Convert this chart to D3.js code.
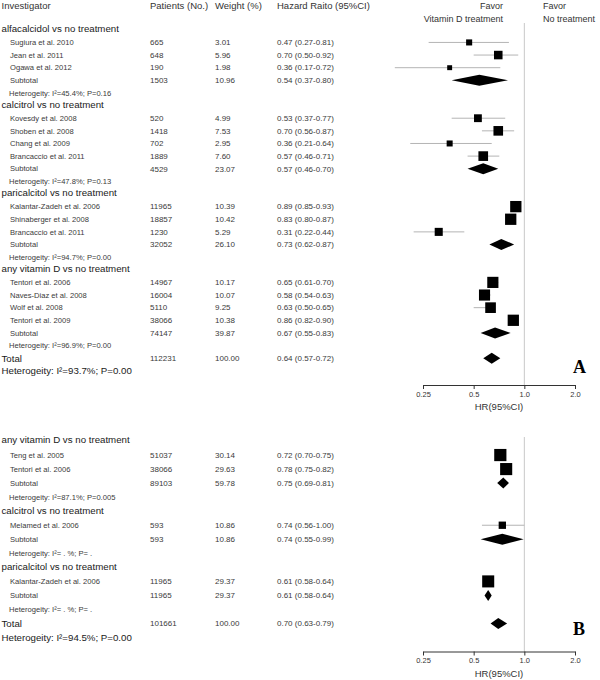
<!DOCTYPE html>
<html>
<head>
<meta charset="utf-8">
<script src="https://cdn.jsdelivr.net/npm/d3@7"></script>
<style>
  html, body { margin: 0; padding: 0; background: #fff; }
  svg { display: block; font-family: "Liberation Sans", Arial, Helvetica, sans-serif; }
</style>
</head>
<body>
<svg id="chart" width="600" height="680"></svg>
<script>
// ---------------- DATA ----------------
// Panel A
const A_groupNames = ["alfacalcidol vs no treatment", "calcitrol vs no treatment", "paricalcitol vs no treatment", "any vitamin D vs no treatment"];
const A_studyNames = ["Sugiura et al. 2010", "Jean et al. 2011", "Ogawa et al. 2012",
  "Kovesdy et al. 2008", "Shoben et al. 2008", "Chang et al. 2009", "Brancaccio et al. 2011",
  "Kalantar-Zadeh et al. 2006", "Shinaberger et al. 2008", "Brancaccio et al. 2011",
  "Tentori et al. 2006", "Naves-Diaz et al. 2008", "Wolf et al. 2008", "Tentori et al. 2009"];
const A_studyGroup = [0, 0, 0, 1, 1, 1, 1, 2, 2, 2, 3, 3, 3, 3];
const A_patients = [665, 648, 190, 520, 1418, 702, 1889, 11965, 18857, 1230, 14967, 16004, 5110, 38066];
const A_weights = [3.01, 5.96, 1.98, 4.99, 7.53, 2.95, 7.60, 10.39, 10.42, 5.29, 10.17, 10.07, 9.25, 10.38];
const A_hr = [0.47, 0.70, 0.36, 0.53, 0.70, 0.36, 0.57, 0.89, 0.83, 0.31, 0.65, 0.58, 0.63, 0.86];
const A_lo = [0.27, 0.50, 0.17, 0.37, 0.56, 0.21, 0.46, 0.85, 0.80, 0.22, 0.61, 0.54, 0.50, 0.82];
const A_hi = [0.81, 0.92, 0.72, 0.77, 0.87, 0.64, 0.71, 0.93, 0.87, 0.44, 0.70, 0.63, 0.65, 0.90];
const A_subPatients = [1503, 4529, 32052, 74147];
const A_subWeights = [10.96, 23.07, 26.10, 39.87];
const A_subHr = [0.54, 0.57, 0.73, 0.67];
const A_subLo = [0.37, 0.46, 0.62, 0.55];
const A_subHi = [0.80, 0.70, 0.87, 0.83];
const A_het = ["I²=45.4%; P=0.16", "I²=47.8%; P=0.13", "I²=94.7%; P=0.00", "I²=96.9%; P=0.00"];
const A_total = [112231, 100.00, 0.64, 0.57, 0.72];
const A_totalHet = "I²=93.7%; P=0.00";

// Panel B
const B_groupNames = ["any vitamin D vs no treatment", "calcitrol vs no treatment", "paricalcitol vs no treatment"];
const B_studyNames = ["Teng et al. 2005", "Tentori et al. 2006", "Melamed et al. 2006", "Kalantar-Zadeh et al. 2006"];
const B_studyGroup = [0, 0, 1, 2];
const B_patients = [51037, 38066, 593, 11965];
const B_weights = [30.14, 29.63, 10.86, 29.37];
const B_hr = [0.72, 0.78, 0.74, 0.61];
const B_lo = [0.70, 0.75, 0.56, 0.58];
const B_hi = [0.75, 0.82, 1.00, 0.64];
const B_subPatients = [89103, 593, 11965];
const B_subWeights = [59.78, 10.86, 29.37];
const B_subHr = [0.75, 0.74, 0.61];
const B_subLo = [0.69, 0.55, 0.58];
const B_subHi = [0.81, 0.99, 0.64];
const B_het = ["I²=87.1%; P=0.005", "I²= . %; P= .", "I²= . %; P= ."];
const B_total = [101661, 100.00, 0.70, 0.63, 0.79];
const B_totalHet = "I²=94.5%; P=0.00";

const tickValues = [0.25, 0.5, 1, 2];
const tickLabels = ["0.25", "0.5", "1.0", "2.0"];

// ---------------- DRAW ----------------
const svg = d3.select("#chart");
const x = d3.scaleLog().base(2).domain([0.25, 2]).range([423, 575]);

const COL = { group: 1.5, study: 10, het: 9, patients: 150, weight: 215, hr: 277 };
const fmt2 = v => v.toFixed(2);
const ciText = (h, l, u) => `${fmt2(h)} (${fmt2(l)}-${fmt2(u)})`;

// Header
const hdr = svg.append("g").attr("fill", "#333").attr("font-size", 9.5);
hdr.append("text").attr("x", COL.group).attr("y", 6).attr("dy", "0.35em").text("Investigator");
hdr.append("text").attr("x", COL.patients).attr("y", 6).attr("dy", "0.35em").text("Patients (No.)");
hdr.append("text").attr("x", COL.weight).attr("y", 6).attr("dy", "0.35em").text("Weight (%)");
hdr.append("text").attr("x", COL.hr).attr("y", 6).attr("dy", "0.35em").text("Hazard Raito (95%CI)");
hdr.append("text").attr("x", 503).attr("y", 6).attr("dy", "0.35em").attr("text-anchor", "end").attr("font-size", 9).text("Favor");
hdr.append("text").attr("x", 503).attr("y", 18.5).attr("dy", "0.35em").attr("text-anchor", "end").attr("font-size", 9).text("Vitamin D treatment");
hdr.append("text").attr("x", 543).attr("y", 6).attr("dy", "0.35em").attr("font-size", 9).text("Favor");
hdr.append("text").attr("x", 543).attr("y", 18.5).attr("dy", "0.35em").attr("font-size", 9).text("No treatment");

function drawPanel(p) {
  const g = svg.append("g");
  // build rows
  const rows = [];
  p.groups.forEach((gn, gi) => {
    rows.push({ type: "header", name: gn });
    p.studyGroup.forEach((sg, si) => {
      if (sg === gi) rows.push({ type: "study", name: p.names[si], n: p.patients[si], w: p.weights[si], hr: p.hr[si], lo: p.lo[si], hi: p.hi[si] });
    });
    rows.push({ type: "subtotal", name: "Subtotal", n: p.subPatients[gi], w: p.subWeights[gi], hr: p.subHr[gi], lo: p.subLo[gi], hi: p.subHi[gi] });
    rows.push({ type: "het", name: "Heterogeity: " + p.het[gi] });
  });
  rows.push({ type: "total", name: "Total", n: p.total[0], w: p.total[1], hr: p.total[2], lo: p.total[3], hi: p.total[4] });
  rows.push({ type: "totalhet", name: "Heterogeity: " + p.totalHet });

  const yOf = i => p.rowStart + i * p.rowStep + (rows[i].type === "header" ? -1 : 0);
  const size = d3.scaleSqrt().domain([0, d3.max(p.weights)]).range([0, p.sqMax]);

  // reference line
  g.append("line").attr("x1", x(1)).attr("x2", x(1)).attr("y1", p.refTop).attr("y2", p.axisY)
    .attr("stroke", "#c8c8c8").attr("stroke-width", 1);

  rows.forEach((r, i) => {
    const y = yOf(i);
    const big = (r.type === "header" || r.type === "total" || r.type === "totalhet");
    const xName = big ? COL.group : (r.type === "het" ? COL.het : COL.study);
    g.append("text").attr("x", xName).attr("y", y).attr("dy", "0.35em")
      .attr("font-size", big ? 9.7 : 7.6).attr("fill", big ? "#1a1a1a" : "#3a3a3a").text(r.name);
    if (r.n !== undefined) {
      const t = g.append("g").attr("font-size", 8).attr("fill", "#3a3a3a");
      t.append("text").attr("x", COL.patients).attr("y", y).attr("dy", "0.35em").text(r.n);
      t.append("text").attr("x", COL.weight).attr("y", y).attr("dy", "0.35em").text(fmt2(r.w));
      t.append("text").attr("x", COL.hr).attr("y", y).attr("dy", "0.35em").text(ciText(r.hr, r.lo, r.hi));
    }
    if (r.type === "study") {
      g.append("line").attr("x1", x(r.lo)).attr("x2", x(r.hi)).attr("y1", y).attr("y2", y)
        .attr("stroke", "#b4b4b4").attr("stroke-width", 1);
      const s = size(r.w);
      g.append("rect").attr("x", x(r.hr) - s / 2).attr("y", y - s / 2).attr("width", s).attr("height", s).attr("fill", "#000");
    }
    if (r.type === "subtotal" || r.type === "total") {
      const h = 5.5;
      const pts = [[x(r.lo), y], [x(r.hr), y - h], [x(r.hi), y], [x(r.hr), y + h]];
      g.append("path").attr("d", "M" + pts.map(q => q.join(",")).join("L") + "Z").attr("fill", "#000");
    }
  });

  // axis
  const axis = d3.axisBottom(x).tickValues(tickValues).tickFormat((d, i) => tickLabels[i]).tickSizeInner(4).tickSizeOuter(0).tickPadding(2.5);
  const ag = g.append("g").attr("transform", `translate(0,${p.axisY})`).call(axis);
  ag.select(".domain").attr("stroke", "#333");
  ag.selectAll(".tick line").attr("stroke", "#333");
  ag.selectAll(".tick text").attr("font-size", 7.5).attr("fill", "#333").attr("font-family", "\"Liberation Sans\", Arial, sans-serif");
  g.append("text").attr("x", (x.range()[0] + x.range()[1]) / 2).attr("y", p.axisY + 22).attr("dy", "0.35em")
    .attr("text-anchor", "middle").attr("font-size", 9.5).attr("fill", "#333").text("HR(95%CI)");

  // panel letter
  g.append("text").attr("x", 573).attr("y", p.letterY).attr("font-family", "\"Liberation Serif\", \"Times New Roman\", serif")
    .attr("font-weight", "bold").attr("font-size", 18).attr("fill", "#000").text(p.letter);
}

drawPanel({
  groups: A_groupNames, names: A_studyNames, studyGroup: A_studyGroup, patients: A_patients, weights: A_weights,
  hr: A_hr, lo: A_lo, hi: A_hi, subPatients: A_subPatients, subWeights: A_subWeights, subHr: A_subHr,
  subLo: A_subLo, subHi: A_subHi, het: A_het, total: A_total, totalHet: A_totalHet,
  rowStart: 29.8, rowStep: 12.63, axisY: 385, refTop: 23, sqMax: 11.3, letter: "A", letterY: 373
});
drawPanel({
  groups: B_groupNames, names: B_studyNames, studyGroup: B_studyGroup, patients: B_patients, weights: B_weights,
  hr: B_hr, lo: B_lo, hi: B_hi, subPatients: B_subPatients, subWeights: B_subWeights, subHr: B_subHr,
  subLo: B_subLo, subHi: B_subHi, het: B_het, total: B_total, totalHet: B_totalHet,
  rowStart: 441, rowStep: 14.04, axisY: 651.5, refTop: 437, sqMax: 12.2, letter: "B", letterY: 635
});
</script>
</body>
</html>
